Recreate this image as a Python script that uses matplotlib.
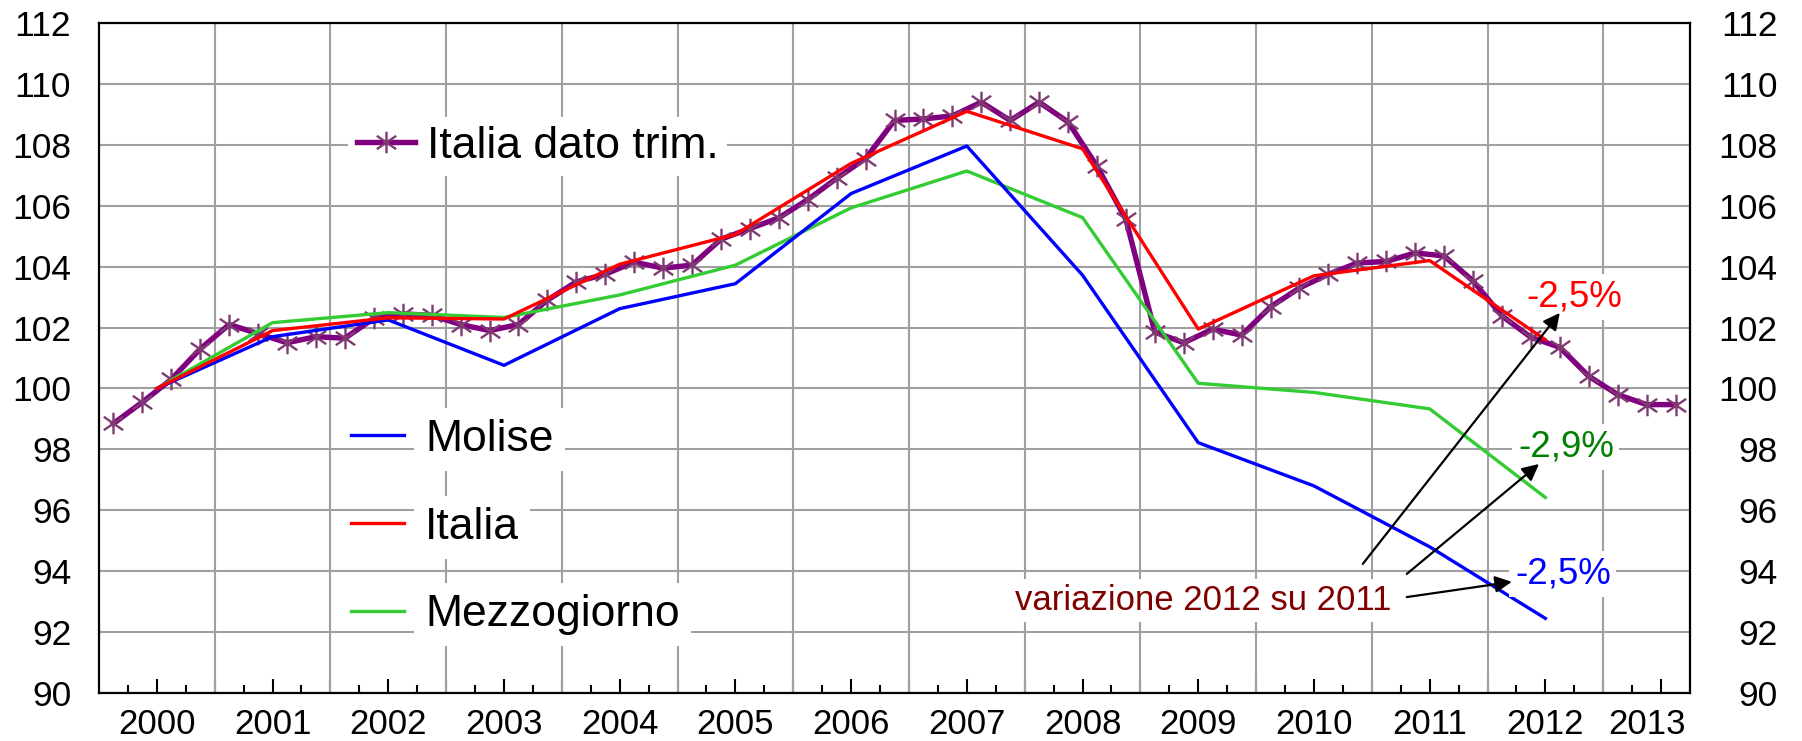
import matplotlib
matplotlib.use('Agg')
import matplotlib.pyplot as plt
from matplotlib.path import Path
import numpy as np

plt.rcParams['font.family'] = ['Liberation Sans', 'DejaVu Sans']

# ---------------- data ----------------
year_labels = ['2000', '2001', '2002', '2003', '2004', '2005', '2006',
               '2007', '2008', '2009', '2010', '2011', '2012', '2013']

# quarterly series, 2000Q1 ... 2013Q3
italia_trim = [98.85, 99.55, 100.3, 101.3,
               102.1, 101.8, 101.5, 101.7,
               101.65, 102.3, 102.45, 102.4,
               102.1, 101.9, 102.1, 102.9,
               103.5, 103.75, 104.15, 103.95,
               104.05, 104.9, 105.25, 105.6,
               106.2, 106.9, 107.55, 108.8,
               108.85, 108.95, 109.4, 108.8,
               109.4, 108.75, 107.3, 105.55,
               101.85, 101.5, 101.95, 101.75,
               102.68, 103.3, 103.75, 104.12,
               104.17, 104.45, 104.35, 103.53,
               102.38, 101.68, 101.35, 100.4,
               99.8, 99.47, 99.47]

# annual series, 2000 ... 2012
annual_years = [2000, 2001, 2002, 2003, 2004, 2005, 2006,
                2007, 2008, 2009, 2010, 2011, 2012]
molise = [100.0, 101.7, 102.25, 100.76, 102.62, 103.44, 106.4,
          107.96, 103.72, 98.22, 96.8, 94.8, 92.45]
italia = [100.0, 101.9, 102.32, 102.28, 104.08, 105.06, 107.39,
          109.1, 107.87, 101.95, 103.7, 104.2, 101.6]
mezzogiorno = [100.0, 102.16, 102.49, 102.33, 103.07, 104.05, 105.93,
               107.14, 105.61, 100.17, 99.87, 99.33, 96.42]

labels_annual = ['Molise', 'Italia', 'Mezzogiorno']
label_trim = 'Italia dato trim.'
var_labels = ['-2,5%', '-2,9%', '-2,5%']
var_title = 'variazione 2012 su 2011'

# ---------------- figure ----------------
W, H = 1802, 741
fig = plt.figure(figsize=(W / 100, H / 100), dpi=100)
ax = fig.add_axes([99 / W, 1 - 693 / H, (1690 - 99) / W, (693 - 23) / H])

nq = len(italia_trim)
x_q = np.arange(nq)
x_a = (np.array(annual_years) - 2000) * 4 + 1.5

grid_c = '#A0A0A0'
ax.set_xlim(-0.5, nq - 0.5)
ax.set_ylim(90, 112)
yt = np.arange(90, 113, 2)
ax.set_yticks(yt)
ax.yaxis.grid(True, color=grid_c, lw=1.5)
ax.set_axisbelow(True)
for b in np.arange(3.5, nq - 1, 4):
    ax.axvline(b, color=grid_c, lw=1.5, zorder=0.6)

for s in ax.spines.values():
    s.set_color('black')
    s.set_linewidth(1.6)
    s.set_zorder(5)

# x ticks: long every half year, short at other quarter boundaries
ax.set_xticks(np.arange(1.5, nq - 0.5, 2))
ax.set_xticks(np.arange(0.5, nq - 0.5, 2), minor=True)
ax.tick_params(axis='x', which='major', direction='in', length=10, width=1.5,
               labelbottom=False)
ax.tick_params(axis='x', which='minor', direction='in', length=6, width=1.5)

label_pos = [1.5 + 4 * j for j in range(13)] + [53.0]
secx = ax.secondary_xaxis('bottom')
secx.set_xticks(label_pos, labels=year_labels)
secx.tick_params(length=0, pad=11, labelsize=25)
secx.spines['bottom'].set_visible(False)

ax.tick_params(axis='y', length=0, pad=20, labelsize=25.5)
secy = ax.secondary_yaxis('right')
secy.set_yticks(yt)
secy.tick_params(length=0, pad=63, labelsize=25.5)
secy.spines['right'].set_visible(False)
for lab in secy.get_yticklabels():
    lab.set_ha('right')

# ---------------- series ----------------
star = Path([(0, -1), (0, 1), (-0.9, -0.62), (0.9, 0.62), (-0.9, 0.62), (0.9, -0.62)],
            [Path.MOVETO, Path.LINETO, Path.MOVETO, Path.LINETO, Path.MOVETO, Path.LINETO])
l_trim, = ax.plot(x_q, italia_trim, color='#800080', lw=3.9, marker=star, ms=15.5,
                  mec='#7F3A72', mew=1.7, mfc='none', zorder=2, label=label_trim)
l_mez, = ax.plot(x_a, mezzogiorno, color='#33CC33', lw=2.4, zorder=2.2, label=labels_annual[2])
l_mol, = ax.plot(x_a, molise, color='#0000FF', lw=2.4, zorder=2.3, label=labels_annual[0])
l_ita, = ax.plot(x_a, italia, color='#FF0000', lw=2.4, zorder=2.4, label=labels_annual[1])

# ---------------- legends ----------------
leg1 = ax.legend(handles=[l_trim], labels=[label_trim], loc='upper left',
                 bbox_to_anchor=(348 / W, 1 - 117 / H), bbox_transform=fig.transFigure,
                 frameon=True, fancybox=False, facecolor='white', edgecolor='none',
                 framealpha=1, fontsize=32, handlelength=1.3, handletextpad=0.27,
                 borderpad=0.2, borderaxespad=0)
ax.add_artist(leg1)

leg2 = ax.legend(handles=[l_mol, l_ita, l_mez], labels=labels_annual, loc='upper left',
                 bbox_to_anchor=(351 / W, 1 - 419 / H), bbox_transform=fig.transFigure,
                 frameon=False, fontsize=32, handlelength=1.2, handletextpad=0.47,
                 labelspacing=1.05, borderpad=0, borderaxespad=0)
for t in leg2.get_texts():
    t.set_bbox(dict(facecolor='white', edgecolor='none', boxstyle='square,pad=0.25'))

# ---------------- annotations ----------------
wb = dict(facecolor='white', edgecolor='none', boxstyle='square,pad=0.15')
ax.text(48.86, 102.68, var_labels[0], color='#FF0000', fontsize=26.5, ha='left',
        va='baseline', bbox=wb, zorder=4)
ax.text(48.55, 97.75, var_labels[1], color='#008000', fontsize=26.5, ha='left',
        va='baseline', bbox=wb, zorder=4)
ax.text(48.45, 93.61, var_labels[2], color='#0000FF', fontsize=26.5, ha='left',
        va='baseline', bbox=wb, zorder=4)
ax.text(31.16, 92.73, var_title, color='#800000', fontsize=25, ha='left',
        va='baseline', bbox=wb, zorder=4)

arr = dict(arrowstyle='-|>', color='black', lw=1.6, mutation_scale=25,
           shrinkA=0, shrinkB=0)
ax.annotate('', xy=(50.0, 102.48), xytext=(43.19, 94.24), arrowprops=arr, zorder=4)
ax.annotate('', xy=(49.28, 97.52), xytext=(44.71, 93.91), arrowprops=arr, zorder=4)
ax.annotate('', xy=(48.34, 93.65), xytext=(44.71, 93.15), arrowprops=arr, zorder=4)

fig.savefig('out.png', dpi=100)
